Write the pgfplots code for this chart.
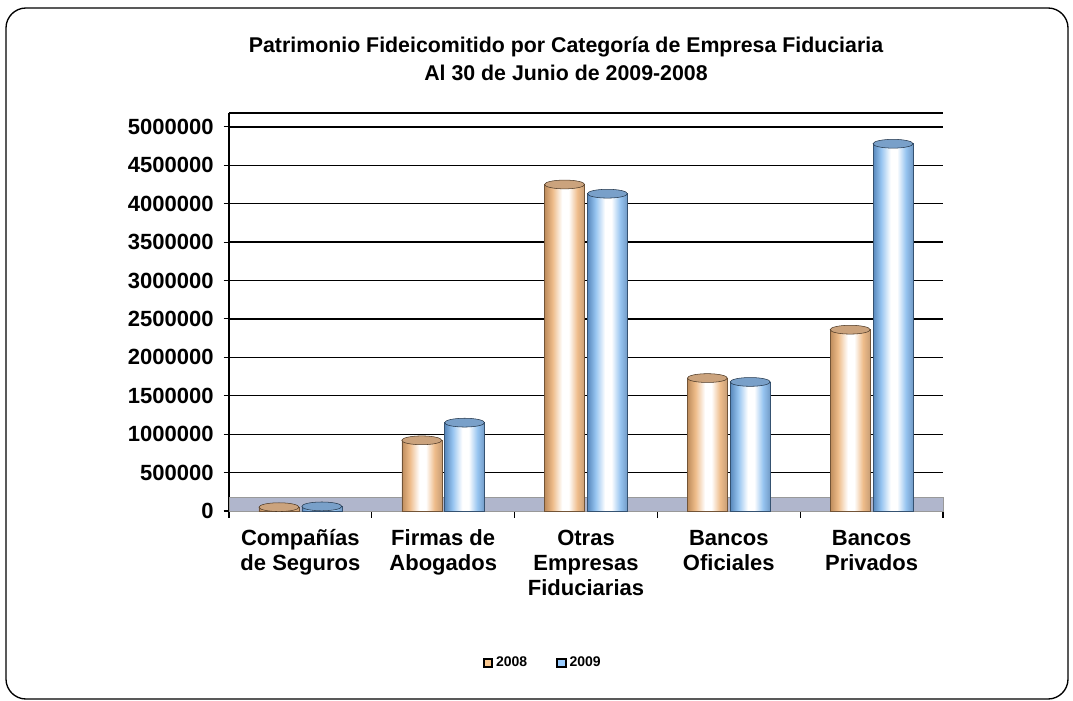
\documentclass[border=0pt]{standalone}
\usepackage{pgfplots}
\pgfplotsset{compat=1.18}
\usepackage{fontspec}
\setmainfont{Liberation Sans}
\definecolor{tanD}{RGB}{190,140,92}
\definecolor{tanM}{RGB}{238,188,138}
\definecolor{tanL}{RGB}{250,201,145}
\definecolor{bluD}{RGB}{88,136,188}
\definecolor{bluM}{RGB}{150,196,240}
\definecolor{bluL}{RGB}{153,204,255}
\definecolor{floorc}{RGB}{176,182,204}
\pgfdeclarehorizontalshading{tancyl}{100bp}{color(0bp)=(tanD); color(25bp)=(tanD); color(35bp)=(tanM); color(47bp)=(white); color(55bp)=(white); color(66bp)=(tanM); color(75bp)=(tanD!85); color(100bp)=(tanD!85)}
\pgfdeclarehorizontalshading{blucyl}{100bp}{color(0bp)=(bluD); color(25bp)=(bluD); color(35bp)=(bluM); color(47bp)=(white); color(55bp)=(white); color(66bp)=(bluM); color(75bp)=(bluD!85); color(100bp)=(bluD!85)}
\pgfplotsset{
  tanbar/.style={ybar, bar width=0.28, bar shift=0pt, draw=tanD!60!black, shading=tancyl, forget plot},
  blubar/.style={ybar, bar width=0.28, bar shift=0pt, draw=bluD!60!black, shading=blucyl, forget plot},
}
\newcommand\fl{\vphantom{ÑÍ}}
\begin{document}
\begin{tikzpicture}
\begin{axis}[
  scale only axis,
  width=535.5pt, height=298.5pt,
  xmin=-0.5, xmax=4.5, ymin=0, ymax=5180000,
  axis x line*=bottom, axis y line*=left,
  axis line style={black, line width=0.8pt},
  ytick={0,500000,...,5000000},
  ymajorgrids, grid style={black, line width=1pt},
  extra y ticks={5180000}, extra y tick labels={},
  extra y tick style={major tick length=0pt, grid=major},
  scaled y ticks=false,
  /pgf/number format/fixed, /pgf/number format/1000 sep={}, /pgf/number format/assume math mode=true,
  tick align=outside, major tick length=4pt, minor tick length=5pt,
  tick style={black, line width=0.8pt},
  xtick={0,1,2,3,4},
  major x tick style={draw=none},
  minor xtick={-0.5,0.5,1.5,2.5,3.5,4.5},
  xticklabels={\fl Compañías\\de Seguros, \fl Firmas de\\Abogados, \fl Otras\\Empresas\\Fiduciarias, \fl Bancos\\Oficiales, \fl Bancos\\Privados},
  xticklabel style={align=center, font=\bfseries\fontsize{16.5}{18.5}\selectfont, yshift=-4pt},
  yticklabel style={font=\bfseries\fontsize{16.5}{18}\selectfont, xshift=-4pt},
  legend style={at={(0.44,-0.382)}, anchor=center, draw=none, legend columns=2,
    font=\bfseries\fontsize{10.5}{12}\selectfont,
    /tikz/every even column/.append style={column sep=20pt}},
  clip=false,
]
\coordinate (O) at (rel axis cs:0,0);
\addplot[fill=floorc, draw=gray!80, forget plot] coordinates {(-0.5,0) (4.5,0) (4.5,182000) (-0.5,182000)} -- cycle;
% 2008
\addplot[tanbar] coordinates {(-0.15,50000)};
\addplot[tanbar] coordinates {(0.85,920000)};
\addplot[tanbar] coordinates {(1.85,4250000)};
\addplot[tanbar] coordinates {(2.85,1730000)};
\addplot[tanbar] coordinates {(3.85,2360000)};
\addplot[only marks, mark=*, mark size=15pt, mark options={yscale=0.22, fill=tanD!80, draw=tanD!40!black}, forget plot]
  coordinates {(-0.15,50000) (0.85,920000) (1.85,4250000) (2.85,1730000) (3.85,2360000)};
% 2009
\addplot[blubar] coordinates {(0.15,60000)};
\addplot[blubar] coordinates {(1.15,1150000)};
\addplot[blubar] coordinates {(2.15,4130000)};
\addplot[blubar] coordinates {(3.15,1680000)};
\addplot[blubar] coordinates {(4.15,4780000)};
\addplot[only marks, mark=*, mark size=15pt, mark options={yscale=0.22, fill=bluD!80, draw=bluD!40!black}, forget plot]
  coordinates {(0.15,60000) (1.15,1150000) (2.15,4130000) (3.15,1680000) (4.15,4780000)};
% legend
\addlegendimage{legend image code/.code={\draw[fill=tanL, draw=black, line width=1.4pt] (0pt,-3.2pt) rectangle (6.4pt,3.2pt);}}
\addlegendentry{2008}
\addlegendimage{legend image code/.code={\draw[fill=bluL, draw=black, line width=1.4pt] (0pt,-3.2pt) rectangle (6.4pt,3.2pt);}}
\addlegendentry{2009}
\end{axis}
\begin{scope}[shift={(O)}, x=0.75pt, y=0.75pt]
\pgfresetboundingbox
\useasboundingbox (-229,-189) rectangle (844,511);
\draw[line width=1pt, rounded corners=15pt] (-223,-188) rectangle (839,503);
\node[font=\bfseries\fontsize{16}{19}\selectfont] at (337,464) {Patrimonio Fideicomitido por Categoría de Empresa Fiduciaria};
\node[font=\bfseries\fontsize{16}{19}\selectfont] at (337,438) {Al 30 de Junio de 2009-2008};
\end{scope}
\end{tikzpicture}
\end{document}
